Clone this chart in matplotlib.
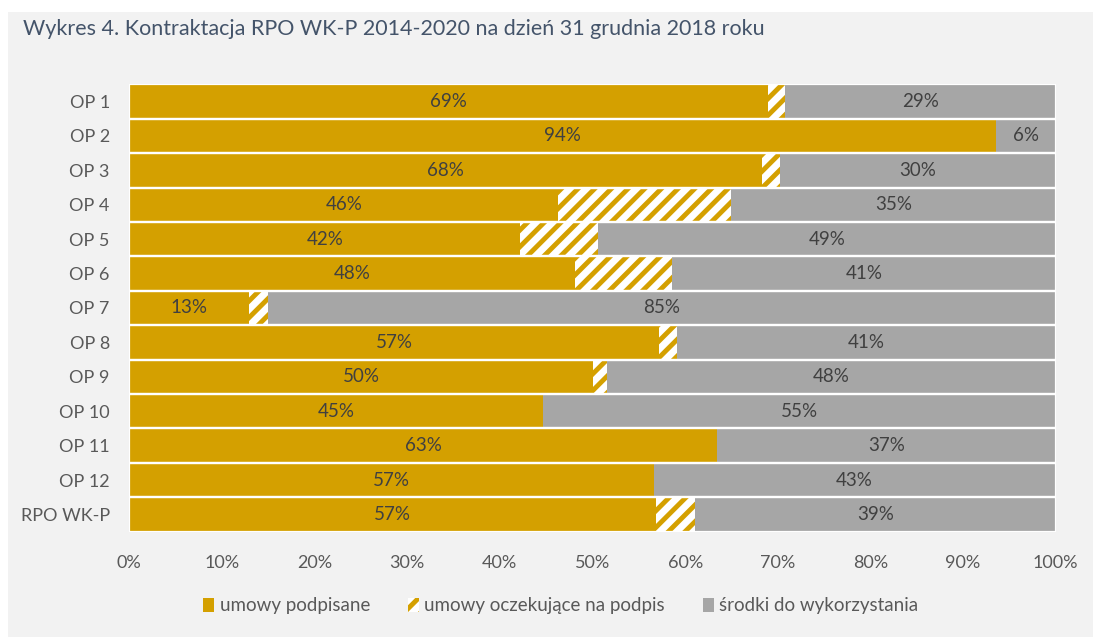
import matplotlib
matplotlib.use("Agg")
import matplotlib.pyplot as plt
from matplotlib.patches import Patch, Rectangle

plt.rcParams['font.family'] = ['Lato', 'DejaVu Sans']
plt.rcParams['hatch.linewidth'] = 3.5

# dane (w %)
kategorie = ["OP 1", "OP 2", "OP 3", "OP 4", "OP 5", "OP 6", "OP 7",
             "OP 8", "OP 9", "OP 10", "OP 11", "OP 12", "RPO WK-P"]
podpisane = [68.9, 93.6, 68.3, 46.3, 42.2, 48.1, 12.9, 57.2, 50.0, 44.7, 63.4, 56.6, 56.8]
oczekujace = [1.9, 0.0, 1.9, 18.7, 8.4, 10.5, 2.1, 1.9, 1.6, 0.0, 0.0, 0.0, 4.3]
do_wykorzystania = [29.2, 6.4, 29.8, 35.0, 49.4, 41.4, 85.0, 40.9, 48.4, 55.3, 36.6, 43.4, 38.9]
ticki = [0, 10, 20, 30, 40, 50, 60, 70, 80, 90, 100]

zolty = '#d4a000'
szary = '#a6a6a6'
tlo = '#f2f2f2'
tekst = '#404040'

fig = plt.figure(figsize=(10.93, 6.37), dpi=100, facecolor='white')
fig.patches.append(Rectangle((8 / 1093, 0), 1, 1 - 12 / 637, transform=fig.transFigure,
                             facecolor=tlo, edgecolor='none', zorder=-10))
ax = fig.add_axes([0.1183, 0.1653, 0.8476, 0.7024])
ax.set_facecolor(tlo)

y = list(range(len(kategorie)))
lewo2 = [a + b for a, b in zip(podpisane, oczekujace)]

ax.barh(y, podpisane, height=1.0, color=zolty, linewidth=0)
ax.barh(y, oczekujace, left=podpisane, height=1.0, facecolor='white',
        edgecolor=zolty, hatch='//', linewidth=0)
ax.barh(y, do_wykorzystania, left=lewo2, height=1.0, color=szary, linewidth=0)
# białe obramowania słupków
ax.barh(y, [100] * len(y), height=1.0, facecolor='none', edgecolor='white', linewidth=1.6)

for i in y:
    ax.text(podpisane[i] / 2, i, f"{podpisane[i]:.0f}%", ha='center', va='center',
            fontsize=13.5, color=tekst)
    ax.text(lewo2[i] + do_wykorzystania[i] / 2, i, f"{do_wykorzystania[i]:.0f}%",
            ha='center', va='center', fontsize=13.5, color=tekst)

ax.set_xlim(0, 100)
ax.set_ylim(len(kategorie) - 0.5, -0.5)
ax.set_yticks(y)
ax.set_yticklabels(kategorie)
ax.set_xticks(ticki)
ax.set_xticklabels([f"{t}%" for t in ticki])
ax.tick_params(axis='both', length=0, labelsize=13, labelcolor='#595959')
ax.tick_params(axis='x', pad=17)
ax.tick_params(axis='y', pad=14)
for s in ax.spines.values():
    s.set_visible(False)

fig.text(0.021, 0.955, "Wykres 4. Kontraktacja RPO WK-P 2014-2020 na dzień 31 grudnia 2018 roku",
         fontsize=15.5, color='#44546a', va='center', ha='left')

uchwyty = [Patch(facecolor=zolty, edgecolor='none', label='umowy podpisane'),
           Patch(facecolor='white', edgecolor=zolty, hatch='//', linewidth=0,
                 label='umowy oczekujące na podpis'),
           Patch(facecolor=szary, edgecolor='none', label='środki do wykorzystania')]
fig.legend(handles=uchwyty, loc='center', bbox_to_anchor=(0.513, 0.049), ncol=3,
           frameon=False, fontsize=13.5, handlelength=0.6, handleheight=0.75,
           handletextpad=0.3, columnspacing=2.0, labelcolor='#595959')

fig.savefig('out.png', dpi=100, facecolor=fig.get_facecolor())
